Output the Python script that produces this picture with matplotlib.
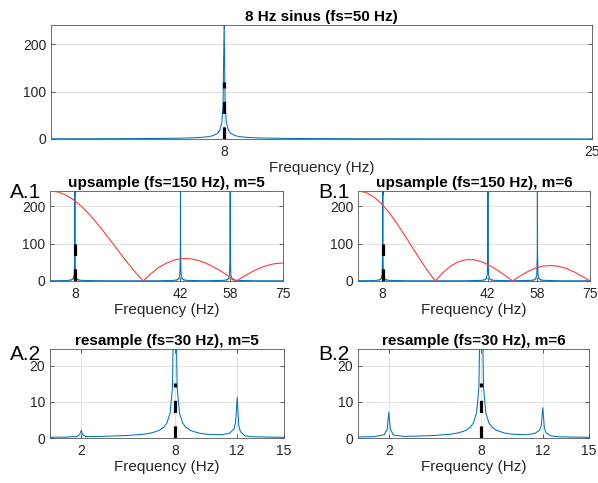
import matplotlib
matplotlib.use('Agg')
from matplotlib import pyplot as plt

plt.rcParams['font.family'] = ['Liberation Sans', 'DejaVu Sans']

# 8 Hz sinus, fs = 50 Hz
top_f = [0, 2, 4, 5, 6, 6.5, 7, 7.3, 7.5, 7.7, 7.8, 7.9, 7.95, 8.0, 8.05, 8.1, 8.2, 8.3, 8.5, 8.7,
         9, 9.5, 10, 11, 12, 14, 17, 20, 25]
top_v = [0.5, 0.6, 0.9, 1.2, 1.8, 2.4, 3.6, 5.1, 7.2, 12, 18, 36, 72, 240, 72, 36, 18, 12, 7.2, 5.1,
         3.6, 2.4, 1.8, 1.2, 0.9, 0.6, 0.4, 0.3, 0.2]

# upsample, fs = 150 Hz
up_f = [0, 4, 6, 7, 7.5, 7.8, 7.95, 8, 8.05, 8.2, 8.5, 9, 10, 15, 25, 35,
        40, 41, 41.5, 41.8, 41.95, 42, 42.05, 42.2, 42.5, 43, 44, 50,
        56, 57, 57.5, 57.8, 57.95, 58, 58.05, 58.2, 58.5, 59, 60, 65, 75]
up_m5 = [0.5, 0.9, 1.8, 3.6, 7.2, 18, 72, 240, 72, 18, 7.2, 3.6, 1.8, 0.6, 0.3, 0.5,
         1.8, 3.6, 7.2, 18, 72, 240, 72, 18, 7.2, 3.6, 1.8, 0.5,
         1.8, 3.6, 7.2, 18, 72, 240, 72, 18, 7.2, 3.6, 1.8, 0.5, 0.3]
up_m6 = [0.5, 0.9, 1.8, 3.6, 7.2, 18, 72, 240, 72, 18, 7.2, 3.6, 1.8, 0.6, 0.3, 0.5,
         1.8, 3.6, 7.2, 18, 72, 240, 72, 18, 7.2, 3.6, 1.8, 0.5,
         1.8, 3.6, 7.2, 18, 72, 240, 72, 18, 7.2, 3.6, 1.8, 0.5, 0.3]
base_f = [0, 6.5, 8, 9.5, 40.5, 42, 43.5, 56.5, 58, 59.5, 75]
base_v = [0, 0, 8, 0, 0, 8, 0, 0, 8, 0, 0]

# hold filter response (red)
hold_f = [0, 2.5, 5, 7.5, 10, 12.5, 15, 17.5, 20, 22.5, 25, 27.5, 30, 32.5, 35, 37.5,
          40, 42.5, 45, 47.5, 50, 52.5, 55, 57.5, 60, 62.5, 65, 67.5, 70, 72.5, 75]
hold_m5 = [240, 237.4, 229.7, 217.0, 199.9, 179.2, 155.3, 129.4, 102.2, 74.8, 48, 22.8, 0, 19.7,
           35.9, 48, 55.9, 59.7, 59.3, 55.3, 48, 38.1, 26.3, 13.3, 0, 12.9, 24.5, 34.4, 41.8, 46.4, 48]
hold_m6 = [240, 236.2, 225.0, 206.9, 183.0, 154.5, 123.1, 90.3, 57.8, 27.2, 0, 22.7, 40, 51.4,
           56.9, 56.6, 51.2, 41.6, 29.1, 14.7, 0, 13.9, 25.7, 34.7, 40, 41.4, 38.9, 32.8, 23.6, 12.4, 0]

# resample, fs = 30 Hz
rs_f = [0, 1, 1.7, 1.9, 2.0, 2.1, 2.3, 3, 4, 5, 6, 6.5, 7, 7.3, 7.5, 7.7, 7.85, 7.95, 8.0, 8.05,
        8.15, 8.3, 8.5, 8.7, 9, 9.5, 10, 11, 11.5, 11.8, 11.9, 12.0, 12.1, 12.2, 12.5, 13, 14, 15]
rs_m5 = [0.2, 0.25, 0.4, 0.9, 2.1, 0.9, 0.4, 0.4, 0.55, 0.7, 1.05, 1.4, 2.1, 3.0, 4.2, 7.0, 14, 42, 80, 42,
         14, 7.0, 4.2, 3.0, 2.1, 1.4, 1.05, 0.9, 1.3, 2.5, 4.5, 11.3, 3.5, 1.8, 0.6, 0.35, 0.25, 0.2]
rs_m6 = [0.3, 0.35, 0.9, 2.5, 7.2, 2.5, 0.8, 0.45, 0.55, 0.7, 1.05, 1.4, 2.1, 3.0, 4.2, 7.0, 14, 42, 80, 42,
         14, 7.0, 4.2, 3.0, 2.1, 1.4, 1.05, 0.9, 1.3, 2.2, 3.5, 8.4, 2.8, 1.5, 0.6, 0.35, 0.25, 0.2]

# 8 Hz marker heights
mark_top = 119
mark_up = 100
mark_rs = 15.2

blue = '#0072BD'
red = '#FF3B3B'
grey_txt = '#262626'


def style(ax, xlim, ylim, xticks, yticks, title):
    ax.set_xlim(xlim)
    ax.set_ylim(ylim)
    ax.set_xticks(xticks)
    ax.set_yticks(yticks)
    ax.grid(True, color='#dcdcdc', linewidth=0.6)
    ax.set_axisbelow(True)
    ax.tick_params(direction='in', top=True, right=True, length=3, width=0.5,
                   colors=grey_txt, labelsize=10, pad=4)
    ax.tick_params(axis='y', pad=3.5)
    for sp in ax.spines.values():
        sp.set_color('#555555')
        sp.set_linewidth(0.6)
    ax.set_title(title, fontsize=11, fontweight='bold', color='black', pad=3)
    ax.set_xlabel('Frequency (Hz)', fontsize=11, color=grey_txt, labelpad=2)


def marker(ax, h):
    ax.plot([8, 8], [0, h], color='black', linewidth=2.3, linestyle=(0, (3.8, 4.2)),
            solid_capstyle='butt', dash_capstyle='butt', zorder=4)


fig = plt.figure(figsize=(5.98, 4.83), dpi=100)
W, H = 598.0, 483.0


def add_ax(l, t, r, b):
    return fig.add_axes([l / W, (H - b) / H, (r - l) / W, (b - t) / H])


ax0 = add_ax(51, 25, 592, 139)
ax0.plot(top_f, top_v, color=blue, linewidth=0.75, zorder=3)
marker(ax0, mark_top)
style(ax0, (0, 25), (0, 240), [8, 25], [0, 100, 200], '8 Hz sinus (fs=50 Hz)')

for l, r, vals, hold, m in [(50, 283, up_m5, hold_m5, 5), (358, 590, up_m6, hold_m6, 6)]:
    ax = add_ax(l, 191, r, 281)
    ax.plot(base_f, base_v, color='#9a9a9a', linewidth=0.8, zorder=2)
    ax.plot(up_f, vals, color=blue, linewidth=0.75, zorder=3)
    ax.plot(hold_f, hold, color=red, linewidth=0.8, zorder=3)
    marker(ax, mark_up)
    style(ax, (0, 75), (0, 240), [8, 42, 58, 75], [0, 100, 200],
          'upsample (fs=150 Hz), m=%d' % m)

for l, r, vals, m in [(50, 284, rs_m5, 5), (358, 589, rs_m6, 6)]:
    ax = add_ax(l, 349, r, 438)
    ax.plot(rs_f, vals, color=blue, linewidth=0.75, zorder=3)
    marker(ax, mark_rs)
    style(ax, (0, 15), (0, 24.7), [2, 8, 12, 15], [0, 10, 20],
          'resample (fs=30 Hz), m=%d' % m)

for txt, x, y in [('A.1', 10, 198), ('B.1', 318, 198), ('A.2', 10, 360), ('B.2', 318, 360)]:
    fig.text(x / W, (H - y) / H, txt, fontsize=15, color='black', ha='left', va='baseline')

fig.savefig('out.png', dpi=100)
